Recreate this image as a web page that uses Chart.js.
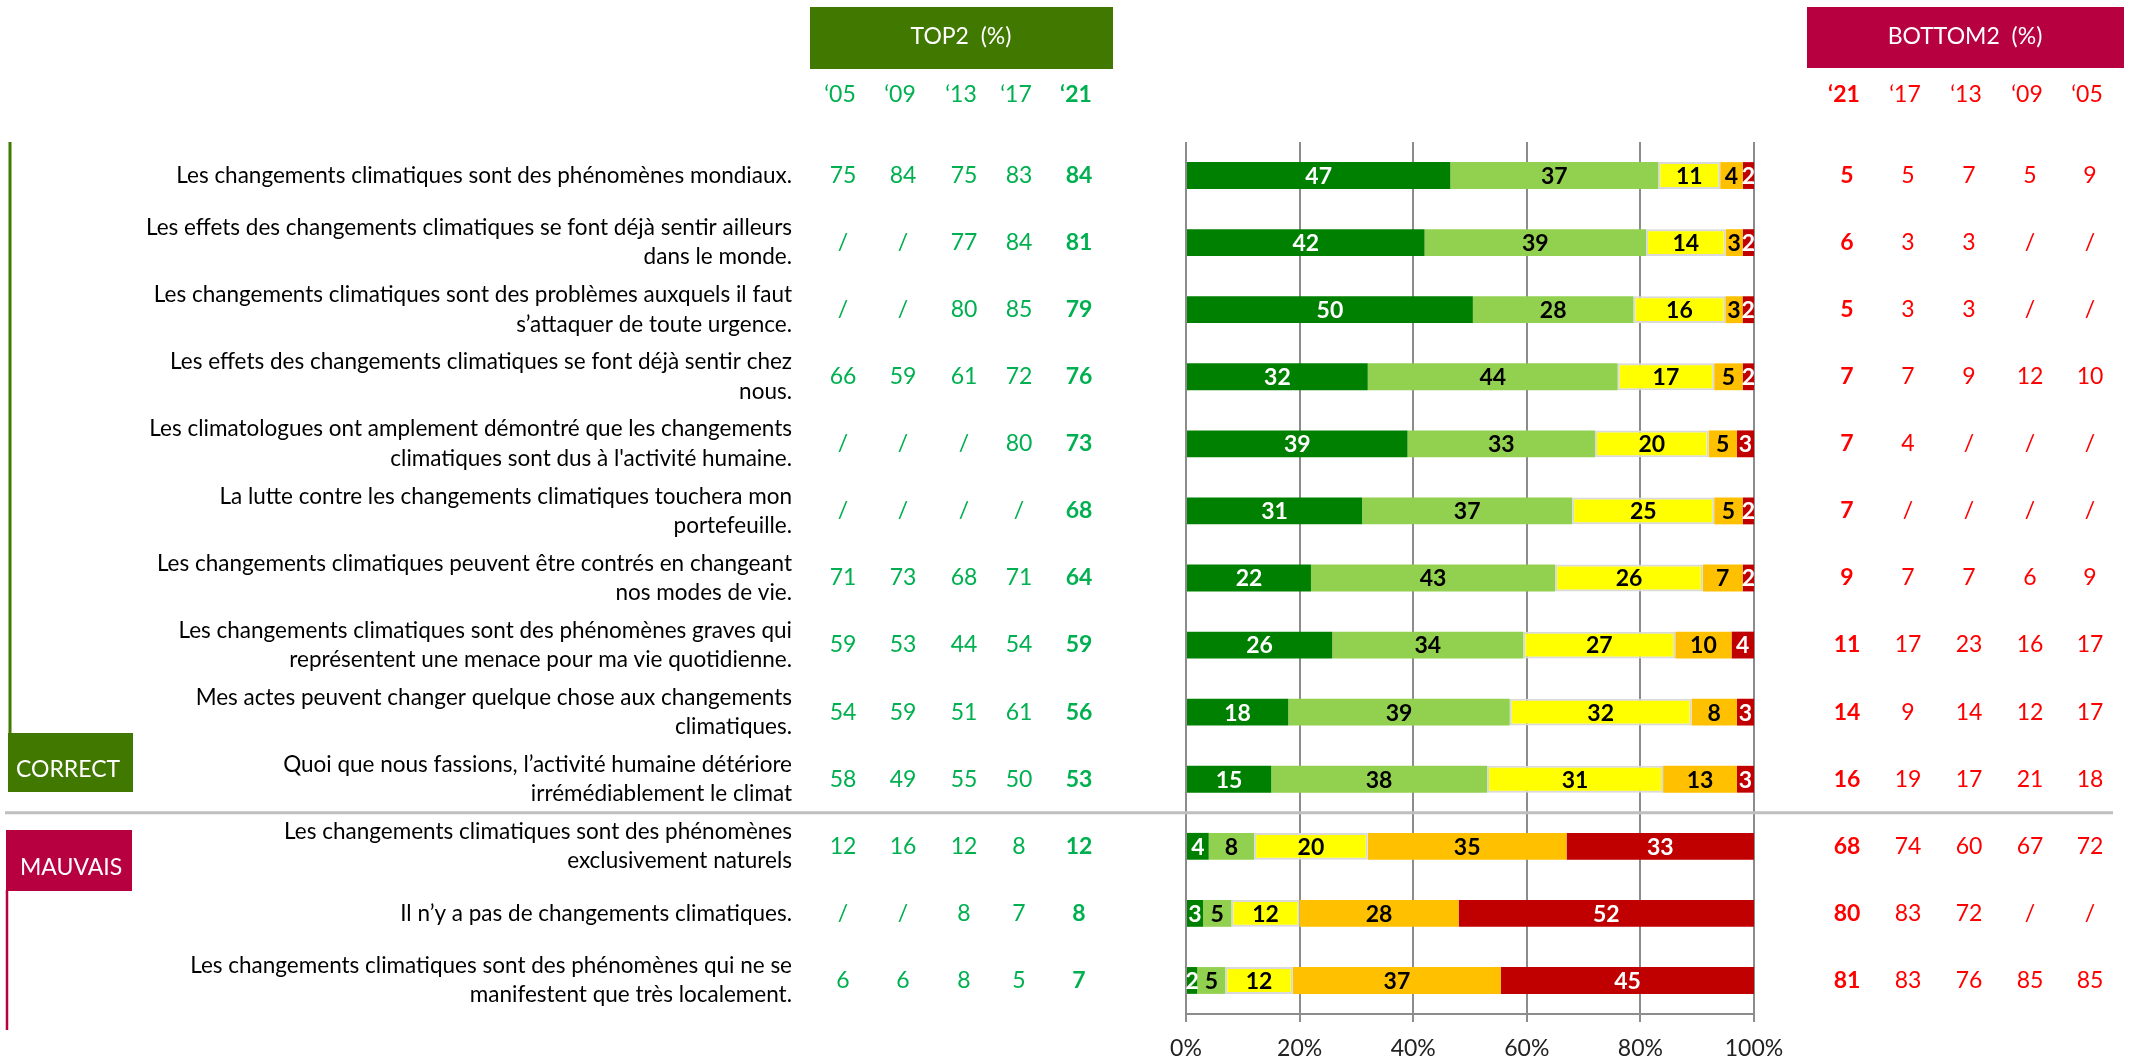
<!DOCTYPE html>
<html lang="fr">
<head>
<meta charset="utf-8">
<title>Changements climatiques</title>
<script src="https://cdn.jsdelivr.net/npm/chart.js@4.4.1/dist/chart.umd.min.js"></script>
<style>
  html, body { margin: 0; padding: 0; background: #fff; }
  #chart { display: block; }
</style>
</head>
<body>
<canvas id="chart" width="2130" height="1059"></canvas>
<script>
// statements shown on the y axis
const statements = [
  "Les changements climatiques sont des phénomènes mondiaux.",
  ["Les effets des changements climatiques se font déjà sentir ailleurs", "dans le monde."],
  ["Les changements climatiques sont des problèmes auxquels il faut", "s’attaquer de toute urgence."],
  ["Les effets des changements climatiques se font déjà sentir chez", "nous."],
  ["Les climatologues ont amplement démontré que les changements", "climatiques sont dus à l'activité humaine."],
  ["La lutte contre les changements climatiques touchera mon", "portefeuille."],
  ["Les changements climatiques peuvent être contrés en changeant", "nos modes de vie."],
  ["Les changements climatiques sont des phénomènes graves qui", "représentent une menace pour ma vie quotidienne."],
  ["Mes actes peuvent changer quelque chose aux changements", "climatiques."],
  ["Quoi que nous fassions, l’activité humaine détériore", "irrémédiablement le climat"],
  ["Les changements climatiques sont des phénomènes", "exclusivement naturels"],
  "Il n’y a pas de changements climatiques.",
  ["Les changements climatiques sont des phénomènes qui ne se", "manifestent que très localement."]
];

// answer shares 2021 (%)
const totallyAgree    = [47, 42, 50, 32, 39, 31, 22, 26, 18, 15, 4, 3, 2];
const ratherAgree     = [37, 39, 28, 44, 33, 37, 43, 34, 39, 38, 8, 5, 5];
const neutral         = [11, 14, 16, 17, 20, 25, 26, 27, 32, 31, 20, 12, 12];
const ratherDisagree  = [4, 3, 3, 5, 5, 5, 7, 10, 8, 13, 35, 28, 37];
const totallyDisagree = [2, 2, 2, 2, 3, 2, 2, 4, 3, 3, 33, 52, 45];

// TOP2 history (null = not asked)
const top2Years = ["‘05", "‘09", "‘13", "‘17", "‘21"];
const top2_05 = [75, null, null, 66, null, null, 71, 59, 54, 58, 12, null, 6];
const top2_09 = [84, null, null, 59, null, null, 73, 53, 59, 49, 16, null, 6];
const top2_13 = [75, 77, 80, 61, null, null, 68, 44, 51, 55, 12, 8, 8];
const top2_17 = [83, 84, 85, 72, 80, null, 71, 54, 61, 50, 8, 7, 5];
const top2_21 = [84, 81, 79, 76, 73, 68, 64, 59, 56, 53, 12, 8, 7];

// BOTTOM2 history (null = not asked)
const bottom2Years = ["‘21", "‘17", "‘13", "‘09", "‘05"];
const bottom2_21 = [5, 6, 5, 7, 7, 7, 9, 11, 14, 16, 68, 80, 81];
const bottom2_17 = [5, 3, 3, 7, 4, null, 7, 17, 9, 19, 74, 83, 83];
const bottom2_13 = [7, 3, 3, 9, null, null, 7, 23, 14, 17, 60, 72, 76];
const bottom2_09 = [5, null, null, 12, null, null, 6, 16, 12, 21, 67, null, 85];
const bottom2_05 = [9, null, null, 10, null, null, 9, 17, 17, 18, 72, null, 85];

// x axis ticks (%)
const xTicks = [0, 20, 40, 60, 80, 100];

// layout
const FONT = "Lato";
const GREEN_BOX = "#407800";
const RED_BOX = "#B70040";
const TOP2_X = [843, 903, 964, 1019, 1079];
const BOTTOM2_X = [1847, 1908, 1969, 2030, 2090];
const YEAR_Y = 95;

const series = [totallyAgree, ratherAgree, neutral, ratherDisagree, totallyDisagree];
const segColors = ["#008000", "#92D050", "#FFFF00", "#FFC000", "#C00000"];
const labelColors = ["#fff", "#000", "#000", "#000", "#fff"];

// Excel-like 100% stacking: each row is scaled to sum 100
const rowSums = statements.map((_, i) => series.reduce((s, arr) => s + arr[i], 0));
const datasets = series.map((arr, k) => ({
  data: arr.map((v, i) => v / rowSums[i] * 100),
  backgroundColor: segColors[k],
  borderColor: k === 2 ? "#D9D9D9" : segColors[k],
  borderWidth: k === 2 ? 2 : 0,
  borderSkipped: false,
  barPercentage: 0.5,
  categoryPercentage: 0.8
}));

const top2Cols = [top2_05, top2_09, top2_13, top2_17, top2_21];
const bottom2Cols = [bottom2_21, bottom2_17, bottom2_13, bottom2_09, bottom2_05];

// numbers inside the bars
const barLabels = {
  id: "barLabels",
  afterDatasetsDraw(chart) {
    const ctx = chart.ctx;
    ctx.save();
    ctx.font = "bold 23px " + FONT;
    ctx.textAlign = "center";
    ctx.textBaseline = "middle";
    chart.data.datasets.forEach((ds, k) => {
      chart.getDatasetMeta(k).data.forEach((bar, i) => {
        const p = bar.getProps(["x", "y", "base"], true);
        ctx.fillStyle = labelColors[k];
        ctx.fillText(series[k][i], (p.x + p.base) / 2, p.y + 1);
      });
    });
    ctx.restore();
  }
};

// headers, history columns, group markers
const extras = {
  id: "extras",
  afterDraw(chart) {
    const ctx = chart.ctx;
    const y = chart.scales.y;
    ctx.save();

    // separator between correct / wrong statements
    const sepY = (y.getPixelForValue(9) + y.getPixelForValue(10)) / 2;
    ctx.strokeStyle = "#BFBFBF";
    ctx.lineWidth = 3;
    ctx.beginPath();
    ctx.moveTo(5, sepY);
    ctx.lineTo(2113, sepY);
    ctx.stroke();

    // header boxes
    ctx.fillStyle = GREEN_BOX;
    ctx.fillRect(810, 7, 303, 62);
    ctx.fillStyle = RED_BOX;
    ctx.fillRect(1807, 7, 317, 61);
    ctx.fillStyle = "#fff";
    ctx.font = "23px " + FONT;
    ctx.textAlign = "center";
    ctx.textBaseline = "middle";
    ctx.fillText("TOP2  (%)", 961, 37);
    ctx.fillText("BOTTOM2  (%)", 1965, 37);

    // year headers + values
    const drawCols = (xs, years, cols, color, boldIdx) => {
      ctx.fillStyle = color;
      xs.forEach((x, c) => {
        ctx.font = (c === boldIdx ? "bold " : "") + "23px " + FONT;
        ctx.fillText(years[c], x - 3, YEAR_Y);
        cols[c].forEach((v, i) => {
          ctx.fillText(v === null ? "/" : v, x, y.getPixelForValue(i));
        });
      });
    };
    drawCols(TOP2_X, top2Years, top2Cols, "#00B050", 4);
    drawCols(BOTTOM2_X, bottom2Years, bottom2Cols, "#FF0000", 0);

    // CORRECT marker
    ctx.strokeStyle = GREEN_BOX;
    ctx.lineWidth = 3;
    ctx.beginPath();
    ctx.moveTo(10, chart.chartArea.top);
    ctx.lineTo(10, 734);
    ctx.stroke();
    ctx.fillStyle = GREEN_BOX;
    ctx.fillRect(8, 733, 125, 59);

    // MAUVAIS marker
    ctx.strokeStyle = RED_BOX;
    ctx.lineWidth = 2.5;
    ctx.beginPath();
    ctx.moveTo(7, 890);
    ctx.lineTo(7, 1030);
    ctx.stroke();
    ctx.fillStyle = RED_BOX;
    ctx.fillRect(6, 830, 126, 61);

    ctx.fillStyle = "#fff";
    ctx.font = "23px " + FONT;
    ctx.textAlign = "left";
    ctx.fillText("CORRECT", 16, 770);
    ctx.fillText("MAUVAIS", 20, 868);

    ctx.restore();
  }
};

new Chart(document.getElementById("chart"), {
  type: "bar",
  data: { labels: statements, datasets: datasets },
  options: {
    indexAxis: "y",
    responsive: false,
    animation: false,
    devicePixelRatio: 1,
    layout: { padding: { left: 0, right: 376, top: 142, bottom: 0 } },
    plugins: { legend: { display: false }, tooltip: { enabled: false } },
    scales: {
      x: {
        stacked: true,
        min: 0,
        max: 100,
        afterBuildTicks: (scale) => { scale.ticks = xTicks.map(v => ({ value: v })); },
        afterFit: (scale) => { scale.height = 45; },
        ticks: {
          callback: (v) => v + "%",
          font: { family: FONT, size: 23 },
          color: "#222",
          padding: 13
        },
        grid: { color: "#8C8C8C", lineWidth: 2, tickLength: 8, drawTicks: true },
        border: { color: "#8C8C8C", width: 2 }
      },
      y: {
        stacked: true,
        // labels sit far left of the plot; keep the big tick padding from eating vertical space
        afterFit: (scale) => {
          scale.width = 1186;
          scale.paddingTop = 0;
          scale.paddingBottom = 0;
        },
        ticks: {
          font: { family: FONT, size: 22.5, lineHeight: 1.3 },
          color: "#000",
          padding: 394,
          autoSkip: false
        },
        grid: { display: false, drawTicks: false },
        border: { display: false }
      }
    }
  },
  plugins: [barLabels, extras]
});
</script>
</body>
</html>
